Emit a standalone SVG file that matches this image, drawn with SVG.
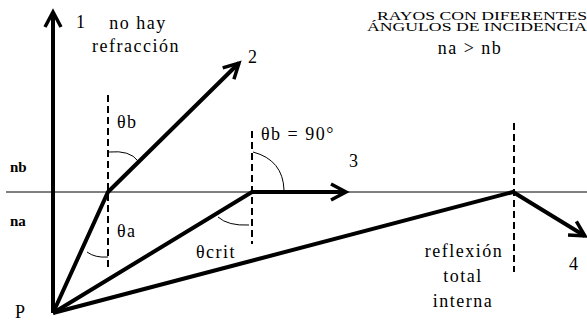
<svg xmlns="http://www.w3.org/2000/svg" width="587" height="327" viewBox="0 0 587 327">
<style>
text{font-family:"Liberation Serif","DejaVu Serif",serif;fill:#000}
.t{font-size:18px;letter-spacing:1.5px}
.s{font-size:11.5px}
.ray{stroke:#000;stroke-width:4;fill:none;stroke-linejoin:miter}
.dash{stroke:#000;stroke-width:2;stroke-dasharray:7 4;fill:none}
.arc{stroke:#000;stroke-width:1;fill:none}
</style>
<defs>
<marker id="ah" viewBox="-18 -12 22 24" markerWidth="22" markerHeight="24" refX="0" refY="0" orient="auto" markerUnits="userSpaceOnUse">
<path d="M-15,-8 L0,0 L-15,8" stroke="#000" stroke-width="3.5" fill="none"/>
</marker>
</defs>
<rect width="587" height="327" fill="#fff"/>
<g id="interface">
<line x1="6" y1="192" x2="587" y2="192" stroke="#000" stroke-width="1"/>
</g>
<g id="normals">
<line class="dash" x1="108" y1="95" x2="108" y2="270"/>
<line class="dash" x1="252" y1="131" x2="252" y2="244"/>
<line class="dash" x1="514" y1="123" x2="514" y2="272"/>
</g>
<g id="connectors">
<polyline class="ray" points="53,313 53,12" marker-end="url(#ah)"/>
<polyline class="ray" points="53,313 108,192 239,63" marker-end="url(#ah)"/>
<polyline class="ray" points="53,313 252,192 346,192" marker-end="url(#ah)"/>
<polyline class="ray" points="53,313 513,192 585,236" marker-end="url(#ah)"/>
</g>
<g id="angles">
<path class="arc" d="M109,152 Q130,150 138,161"/>
<path class="arc" d="M253,152 Q283,160 284,190"/>
<path class="arc" d="M87,252 Q95,258 108,257"/>
<path class="arc" d="M218,217 Q228,226 249,225"/>
</g>
<g id="labels" font-family="Liberation Serif, DejaVu Serif, serif">
<text class="t" x="76" y="28">1</text>
<text class="t" x="138" y="29" text-anchor="middle">no hay</text>
<text class="t" x="136" y="52" text-anchor="middle">refracción</text>
<text class="t" x="248" y="63">2</text>
<text class="t" x="117" y="128">θb</text>
<text class="t" x="261" y="140" letter-spacing="2.5">θb = 90°</text>
<text class="t" x="349" y="167">3</text>
<text x="10" y="172" font-weight="bold" font-size="15">nb</text>
<text x="10" y="226" font-weight="bold" font-size="15">na</text>
<text class="t" x="117" y="237">θa</text>
<text class="t" x="196" y="258">θcrit</text>
<text class="t" x="15" y="318">P</text>
<text class="s" x="377" y="20" textLength="210" lengthAdjust="spacingAndGlyphs">RAYOS CON DIFERENTES</text>
<text class="s" x="367" y="31" textLength="220" lengthAdjust="spacingAndGlyphs">ÁNGULOS DE INCIDENCIA</text>
<text class="t" x="470" y="54" text-anchor="middle">na &gt; nb</text>
<text class="t" x="464" y="257" text-anchor="middle">reflexión</text>
<text class="t" x="463" y="282" text-anchor="middle">total</text>
<text class="t" x="463" y="307" text-anchor="middle">interna</text>
<text class="t" x="569" y="270">4</text>
</g>
</svg>
